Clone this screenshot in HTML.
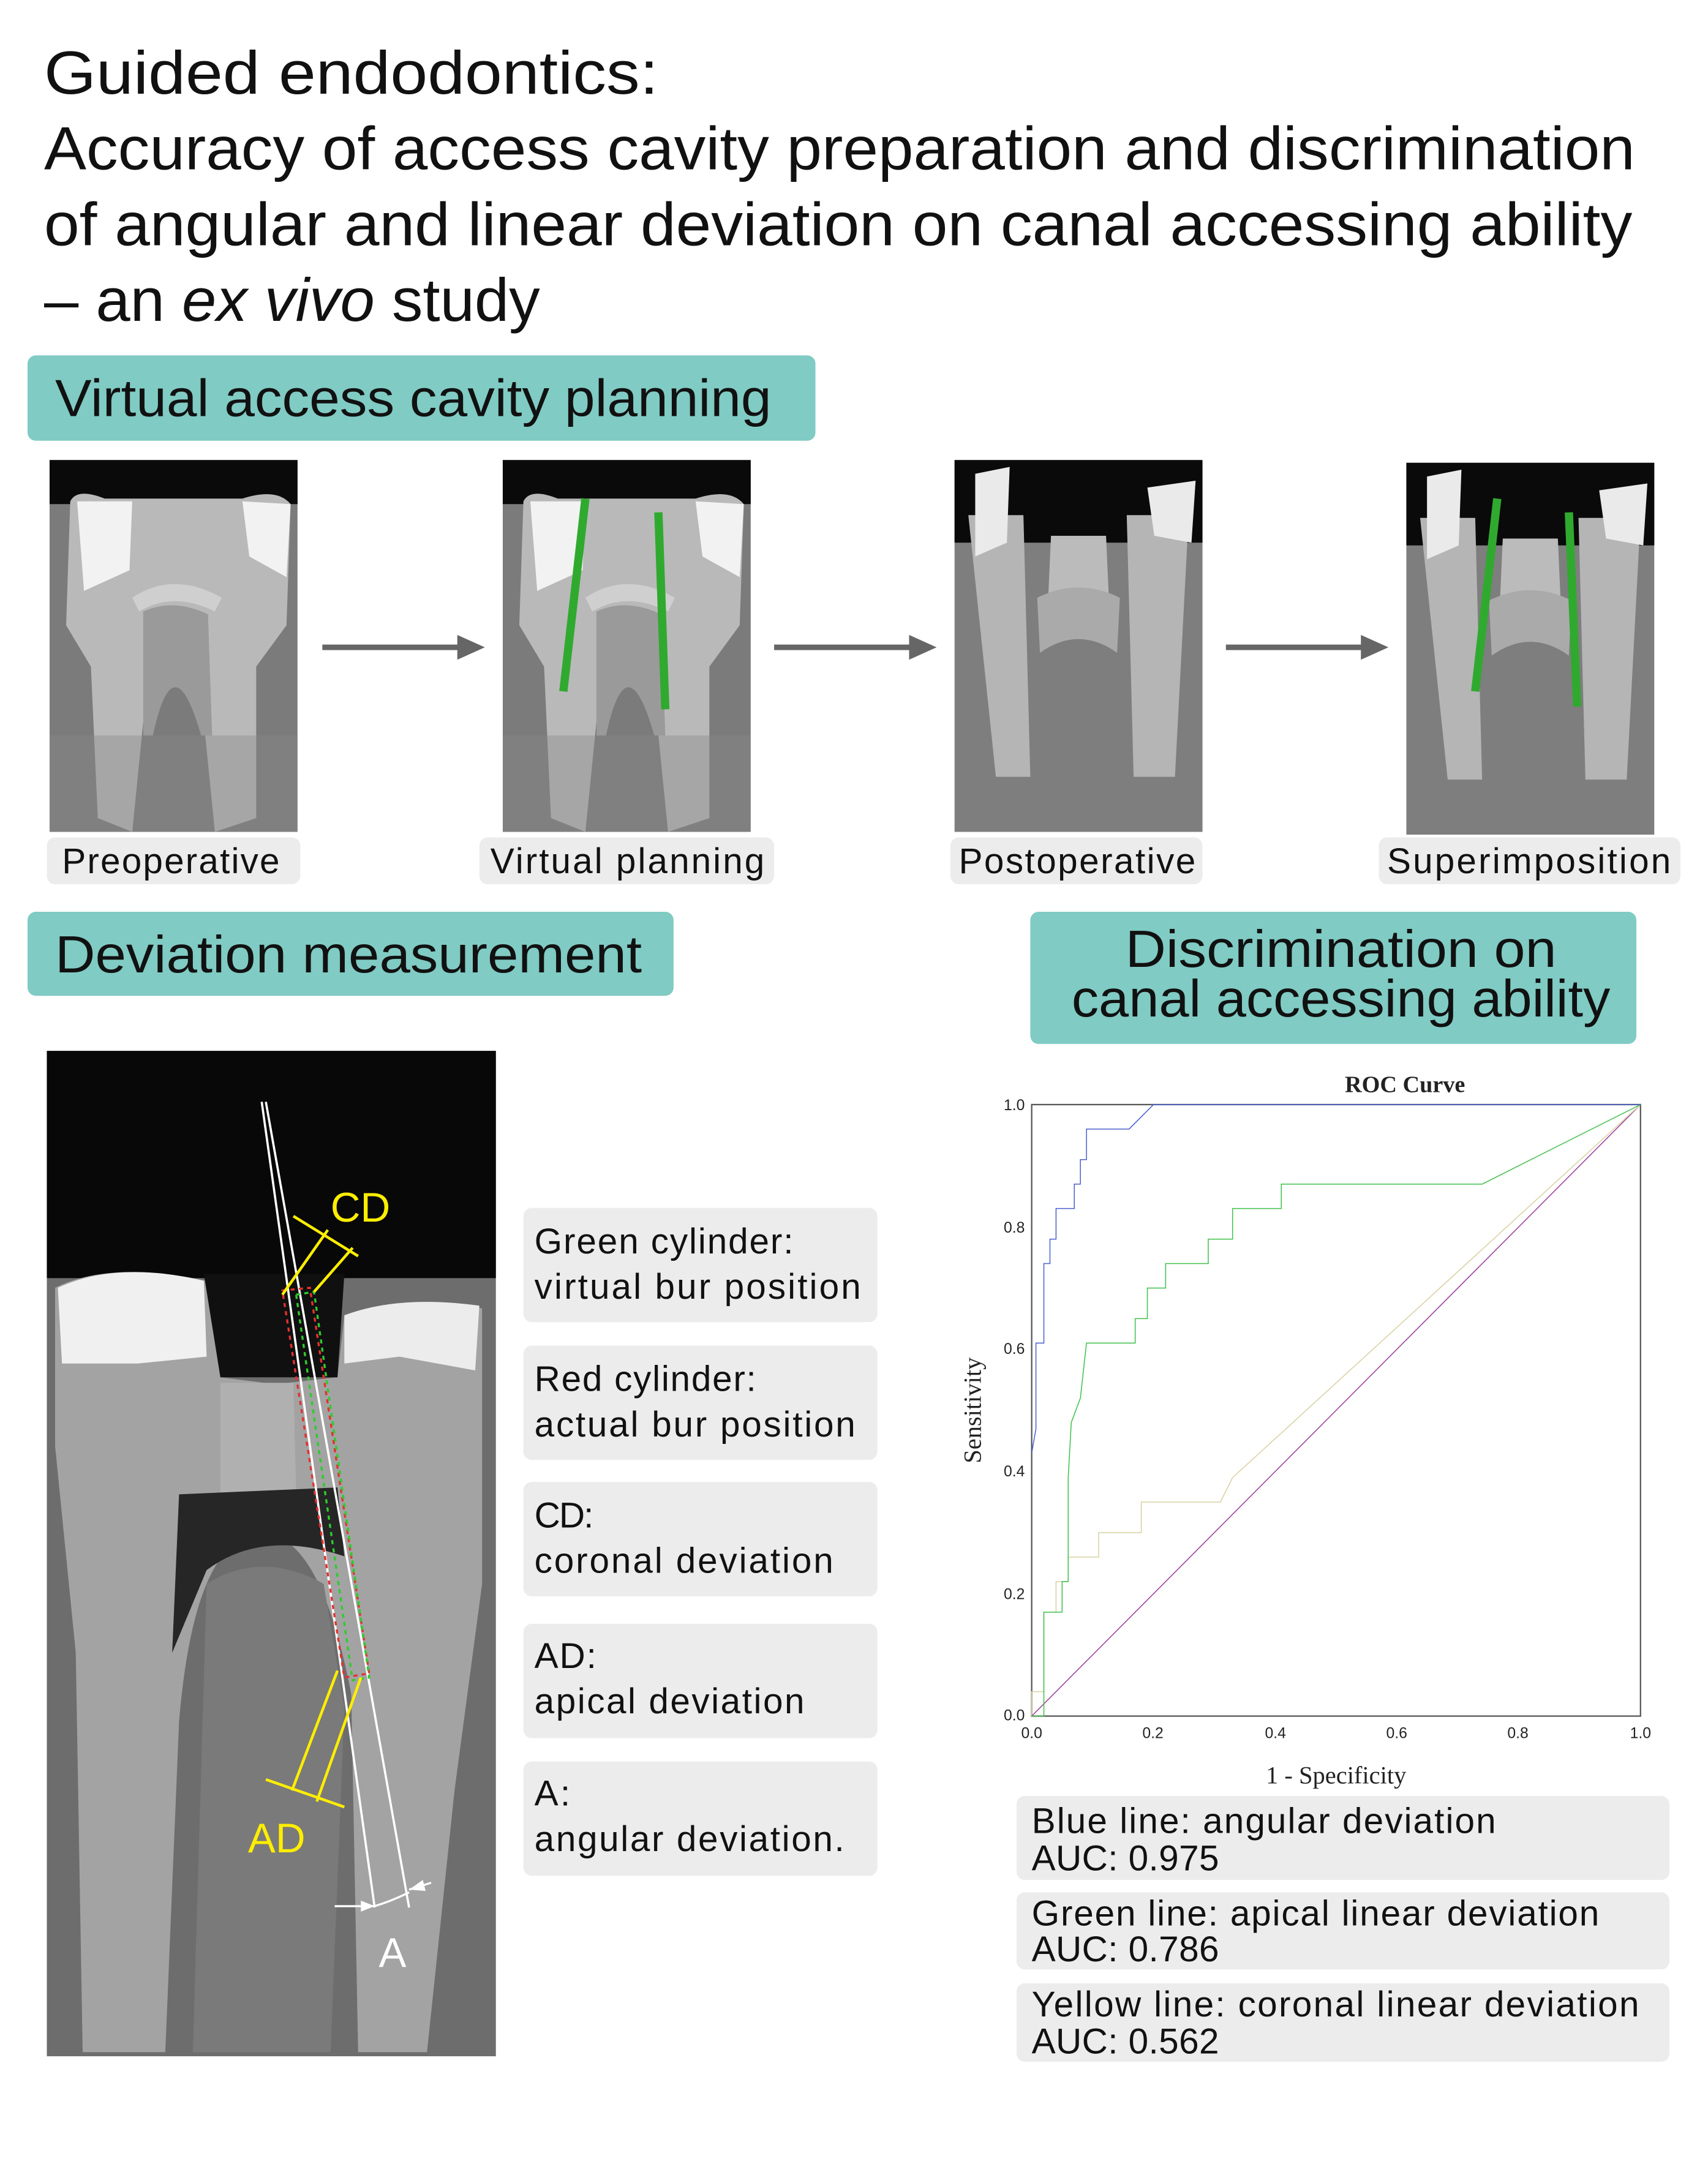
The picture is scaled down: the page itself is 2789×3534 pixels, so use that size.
<!DOCTYPE html>
<html><head><meta charset="utf-8"><style>
html,body{margin:0;padding:0;background:#fff;}
svg{display:block;}
text{font-family:"Liberation Sans","DejaVu Sans",sans-serif;}
.ser{font-family:"Liberation Serif",serif;}
.nse{vector-effect:non-scaling-stroke;fill:none;}
</style></head><body>
<svg width="2789" height="3534" viewBox="0 0 1240 1571.2" xmlns="http://www.w3.org/2000/svg">
<defs>
<g id="tooth">
 <rect x="0" y="0" width="180" height="270" fill="#7b7b7b"/>
 <rect x="0" y="0" width="180" height="32" fill="#0a0a0a"/>
 <path d="M15,30 Q20,20 40,28 L140,28 Q165,20 175,32 L172,120 L150,150 L150,260 L120,270 L110,170 Q90,140 70,170 L60,270 L35,260 L30,150 L12,120 Z" fill="#b9b9b9"/>
 <path d="M20,30 L60,30 L58,80 L25,95 Z" fill="#f2f2f2"/>
 <path d="M140,30 L175,32 L172,85 L145,70 Z" fill="#f2f2f2"/>
 <path d="M60,100 Q90,80 125,100 L120,110 Q90,95 65,110 Z" fill="#cfcfcf"/>
 <path d="M68,110 Q90,100 115,112 L118,200 L110,200 Q90,130 75,200 L68,200 Z" fill="#9a9a9a"/>
 <rect x="0" y="200" width="180" height="70" fill="#8a8a8a" opacity="0.4"/>
</g>
<g id="tooth2">
 <rect x="0" y="0" width="180" height="270" fill="#7e7e7e"/>
 <rect x="0" y="0" width="180" height="60" fill="#0a0a0a"/>
 <path d="M10,40 L50,40 L55,230 L30,230 Z" fill="#b5b5b5"/>
 <path d="M125,40 L170,40 L160,230 L130,230 Z" fill="#b5b5b5"/>
 <path d="M15,10 L40,5 L38,60 L15,70 Z" fill="#eaeaea"/>
 <path d="M140,20 L175,15 L172,60 L145,55 Z" fill="#eaeaea"/>
 <path d="M70,55 L110,55 L112,100 Q90,90 68,100 Z" fill="#bbbbbb"/>
 <path d="M60,100 Q90,85 120,100 L118,140 Q90,120 62,140 Z" fill="#aaaaaa"/>
</g>
</defs>

<g font-size="44" fill="#111">
<text x="32" y="68" textLength="446" lengthAdjust="spacingAndGlyphs">Guided endodontics:</text>
<text x="32" y="123" textLength="1155" lengthAdjust="spacingAndGlyphs">Accuracy of access cavity preparation and discrimination</text>
<text x="32" y="178" textLength="1153" lengthAdjust="spacingAndGlyphs">of angular and linear deviation on canal accessing ability</text>
<text x="32" y="233" textLength="360" lengthAdjust="spacingAndGlyphs">– an <tspan font-style="italic">ex vivo</tspan> study</text>
</g>

<rect x="20" y="258" width="572" height="62" rx="6" fill="#80cbc4"/>
<text x="40" y="302" font-size="38" fill="#111" textLength="520" lengthAdjust="spacingAndGlyphs">Virtual access cavity planning</text>

<use href="#tooth" x="36" y="334"/>
<use href="#tooth" x="365" y="334"/>
<line x1="425" y1="362" x2="409" y2="502" stroke="#2faa2f" stroke-width="6"/>
<line x1="478" y1="372" x2="483" y2="515" stroke="#2faa2f" stroke-width="6"/>
<use href="#tooth2" x="693" y="334"/>
<use href="#tooth2" x="1021" y="336"/>
<line x1="1087" y1="362" x2="1071" y2="502" stroke="#2faa2f" stroke-width="6"/>
<line x1="1139" y1="372" x2="1145" y2="513" stroke="#2faa2f" stroke-width="6"/>

<g fill="#666" stroke="#666">
<line x1="234" y1="470" x2="335" y2="470" stroke-width="4"/><polygon points="332,461 352,470 332,479" stroke="none"/>
<line x1="562" y1="470" x2="663" y2="470" stroke-width="4"/><polygon points="660,461 680,470 660,479" stroke="none"/>
<line x1="890" y1="470" x2="991" y2="470" stroke-width="4"/><polygon points="988,461 1008,470 988,479" stroke="none"/>
</g>

<g fill="#ececec">
<rect x="34" y="608" width="184" height="34" rx="6"/>
<rect x="348" y="608" width="214" height="34" rx="6"/>
<rect x="690" y="608" width="183" height="34" rx="6"/>
<rect x="1001" y="608" width="219" height="34" rx="6"/>
</g>
<g font-size="26" fill="#111" lengthAdjust="spacingAndGlyphs">
<text x="45" y="634" textLength="158">Preoperative</text>
<text x="356" y="634" textLength="199">Virtual planning</text>
<text x="696" y="634" textLength="172">Postoperative</text>
<text x="1007" y="634" textLength="206">Superimposition</text>
</g>

<rect x="20" y="662" width="469" height="61" rx="6" fill="#80cbc4"/>
<text x="40" y="706" font-size="38" fill="#111" textLength="426" lengthAdjust="spacingAndGlyphs">Deviation measurement</text>

<rect x="748" y="662" width="440" height="96" rx="6" fill="#80cbc4"/>
<text x="817" y="702" font-size="38" fill="#111" textLength="313" lengthAdjust="spacingAndGlyphs">Discrimination on</text>
<text x="778" y="738" font-size="38" fill="#111" textLength="391" lengthAdjust="spacingAndGlyphs">canal accessing ability</text>

<rect x="34" y="763" width="326" height="730" fill="#6d6d6d"/>
<rect x="34" y="763" width="326" height="165" fill="#080808"/>
<path d="M40,935 Q80,915 150,930 L160,1000 L200,1005 L245,1000 L250,955 Q300,940 350,950 L350,1150 L330,1300 L310,1490 L260,1490 L255,1230 Q230,1100 180,1115 Q140,1130 130,1250 L120,1490 L60,1490 L55,1200 L40,1050 Z" fill="#a3a3a3"/>
<path d="M148,925 L250,925 L245,1000 L160,1000 Z" fill="#101010"/>
<path d="M42,935 Q85,915 148,930 L150,985 L100,990 L45,990 Z" fill="#f0f0f0"/>
<path d="M250,955 Q290,940 348,948 L345,995 L290,985 L250,990 Z" fill="#ececec"/>
<path d="M160,1004 L213,1004 L215,1084 L160,1084 Z" fill="#b0b0b0"/>
<path d="M130,1085 L245,1080 L250,1130 Q190,1110 150,1140 L125,1200 Z" fill="#262626"/>
<path d="M150,1150 Q190,1125 235,1150 L250,1240 L240,1490 L140,1490 Z" fill="#7a7a7a"/>
<line x1="190" y1="800" x2="272" y2="1385" stroke="#fff" stroke-width="1.6"/>
<line x1="193" y1="800" x2="297" y2="1385" stroke="#fff" stroke-width="1.6"/>
<polygon points="205,937 225,935 268,1215 250,1218" fill="none" stroke="#e53030" stroke-width="1.5" stroke-dasharray="3,3"/>
<polygon points="215,940 228,938 268,1218 256,1220" fill="none" stroke="#2ecc2e" stroke-width="1.5" stroke-dasharray="3,3"/>
<g stroke="#ffee00" stroke-width="2" fill="#ffee00">
<line x1="205" y1="940" x2="238" y2="893"/><line x1="228" y1="938" x2="256" y2="906"/>
<line x1="213" y1="883" x2="260" y2="912"/>
<line x1="245" y1="1213" x2="212" y2="1300"/><line x1="262" y1="1218" x2="230" y2="1308"/>
<line x1="193" y1="1292" x2="250" y2="1312"/>
</g>
<text x="240" y="887" font-size="30" fill="#ffee00">CD</text>
<text x="180" y="1345" font-size="30" fill="#ffee00">AD</text>
<g stroke="#fff" stroke-width="1.5"><line x1="243" y1="1384" x2="272" y2="1384"/><line x1="297" y1="1372" x2="313" y2="1367"/><path d="M272,1384 Q285,1380 297,1374" fill="none"/></g>
<g fill="#fff"><polygon points="262,1380 272,1384 262,1388"/><polygon points="307,1365 297,1372 309,1373"/></g>
<text x="275" y="1428" font-size="30" fill="#fff">A</text>

<g fill="#ececec">
<rect x="380" y="877" width="257" height="83" rx="6"/>
<rect x="380" y="977" width="257" height="83" rx="6"/>
<rect x="380" y="1076" width="257" height="83" rx="6"/>
<rect x="380" y="1179" width="257" height="83" rx="6"/>
<rect x="380" y="1279" width="257" height="83" rx="6"/>
</g>
<g font-size="26" fill="#111" lengthAdjust="spacingAndGlyphs">
<text x="388" y="910" textLength="188">Green cylinder:</text><text x="388" y="943" textLength="237">virtual bur position</text>
<text x="388" y="1010" textLength="161">Red cylinder:</text><text x="388" y="1043" textLength="233">actual bur position</text>
<text x="388" y="1109" textLength="43">CD:</text><text x="388" y="1142" textLength="217">coronal deviation</text>
<text x="388" y="1211" textLength="45">AD:</text><text x="388" y="1244" textLength="196">apical deviation</text>
<text x="388" y="1311" textLength="26">A:</text><text x="388" y="1344" textLength="225">angular deviation.</text>
</g>

<text x="1020" y="793" font-size="17" font-weight="bold" class="ser" text-anchor="middle" fill="#222">ROC Curve</text>
<rect x="749" y="802" width="442" height="444" fill="none" stroke="#555" stroke-width="1"/>
<g font-size="11" class="ser" fill="#222" text-anchor="end">
<text x="744" y="806">1.0</text><text x="744" y="895">0.8</text><text x="744" y="983">0.6</text><text x="744" y="1072">0.4</text><text x="744" y="1161">0.2</text><text x="744" y="1249">0.0</text>
</g>
<g font-size="11" class="ser" fill="#222" text-anchor="middle">
<text x="749" y="1262">0.0</text><text x="837" y="1262">0.2</text><text x="926" y="1262">0.4</text><text x="1014" y="1262">0.6</text><text x="1102" y="1262">0.8</text><text x="1191" y="1262">1.0</text>
</g>
<text x="970" y="1295" font-size="18" class="ser" text-anchor="middle" fill="#222">1 - Specificity</text>
<text transform="translate(712,1024) rotate(-90)" font-size="18" class="ser" text-anchor="middle" fill="#222">Sensitivity</text>
<g transform="translate(749,1246) scale(442,-444)" stroke-width="1.5">
<polyline class="nse" stroke="#9b3a9b" points="0,0 1,1"/>
<polyline class="nse" stroke="#d8d0a0" points="0,0 0,0.04 0.02,0.04 0.02,0.17 0.04,0.17 0.04,0.22 0.06,0.22 0.06,0.26 0.11,0.26 0.11,0.30 0.18,0.30 0.18,0.35 0.31,0.35 0.33,0.39 1,1"/>
<polyline class="nse" stroke="#3ec04a" points="0,0 0.02,0 0.02,0.17 0.05,0.17 0.05,0.22 0.06,0.22 0.06,0.39 0.065,0.48 0.08,0.52 0.09,0.61 0.17,0.61 0.17,0.65 0.19,0.65 0.19,0.70 0.22,0.70 0.22,0.74 0.29,0.74 0.29,0.78 0.33,0.78 0.33,0.83 0.41,0.83 0.41,0.87 0.74,0.87 1,1"/>
<polyline class="nse" stroke="#4a5fcc" points="0,0.43 0.007,0.47 0.007,0.61 0.02,0.61 0.02,0.74 0.03,0.74 0.03,0.78 0.04,0.78 0.04,0.83 0.07,0.83 0.07,0.87 0.08,0.87 0.08,0.91 0.09,0.91 0.09,0.96 0.16,0.96 0.2,1 1,1"/>
</g>

<g fill="#ececec">
<rect x="738" y="1304" width="474" height="61" rx="6"/>
<rect x="738" y="1374" width="474" height="56" rx="6"/>
<rect x="738" y="1440" width="474" height="57" rx="6"/>
</g>
<g font-size="26" fill="#111" lengthAdjust="spacingAndGlyphs">
<text x="749" y="1331" textLength="337">Blue line: angular deviation</text><text x="749" y="1358" textLength="136">AUC: 0.975</text>
<text x="749" y="1398" textLength="412">Green line: apical linear deviation</text><text x="749" y="1424" textLength="136">AUC: 0.786</text>
<text x="749" y="1464" textLength="441">Yellow line: coronal linear deviation</text><text x="749" y="1491" textLength="136">AUC: 0.562</text>
</g>
</svg>
</body></html>
